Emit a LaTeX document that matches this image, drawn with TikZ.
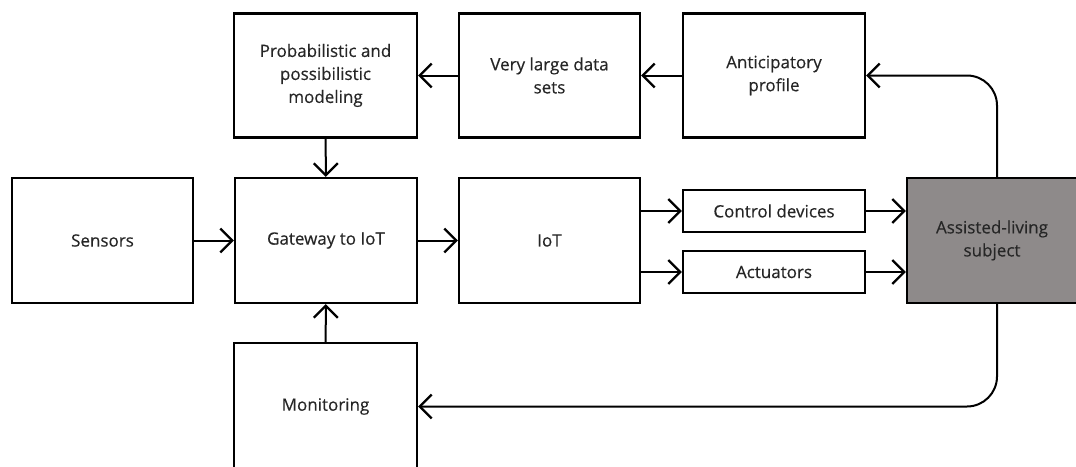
\documentclass[tikz,border=0pt]{standalone}
\usepackage{fontspec}
\setmainfont{Open Sans}
\newfontfamily\medfont{Open Sans}[FakeBold=0.35]
\usetikzlibrary{arrows.meta}
\definecolor{txt}{HTML}{262626}
\definecolor{subj}{HTML}{8E8A8A}
\tikzset{
  blk/.style={draw=black, line width=2.2pt, fill=white, rectangle, align=center,
    text=txt, font=\medfont\fontsize{17}{23}\selectfont, inner sep=0pt},
  arr/.style={line width=2pt, -{Straight Barb[length=12pt,width=24pt,line width=2.3pt]}},
}
\begin{document}
\begin{tikzpicture}[x=1pt,y=-1pt]
\useasboundingbox (0,0) rectangle (1076,466);
\clip (0,0) rectangle (1076,466);
\fill[white] (0,0) rectangle (1076,466);
\node[blk, minimum width=183pt, minimum height=124pt] (prob) at (325.5,75.5) {Probabilistic and\\possibilistic\\modeling};
\node[blk, minimum width=181pt, minimum height=124pt] (data) at (549.5,75.5) {Very large data\\sets};
\node[blk, minimum width=182pt, minimum height=124pt] (antic) at (774,75.5) {Anticipatory\\profile};
\node[blk, minimum width=181pt, minimum height=125pt] (sens) at (102.5,240.5) {Sensors};
\node[blk, minimum width=182pt, minimum height=125pt] (gate) at (326,240.5) {Gateway to IoT};
\node[blk, minimum width=181pt, minimum height=125pt] (iot) at (549.5,240.5) {IoT};
\node[blk, minimum width=182pt, minimum height=42pt] (ctrl) at (774,211) {Control devices};
\node[blk, minimum width=182pt, minimum height=42pt] (act) at (774,272) {Actuators};
\node[blk, fill=subj, minimum width=170pt, minimum height=125pt] (subj) at (992,240.5) {Assisted-living\\subject};
\node[blk, minimum width=183pt, minimum height=127pt] (mon) at (325.5,406.5) {Monitoring};

\draw[arr] (data) -- (prob);
\draw[arr] (antic) -- (data);
\draw[arr] (prob) -- (gate);
\draw[arr] (sens) -- (gate);
\draw[arr] (gate) -- (iot);
\draw[arr] (mon) -- (gate);
\draw[arr] (iot.east |- ctrl) -- (ctrl);
\draw[arr] (iot.east |- act) -- (act);
\draw[arr] (ctrl) -- (subj.west |- ctrl);
\draw[arr] (act) -- (subj.west |- act);
\draw[arr, rounded corners=30pt] ([xshift=5pt]subj.north) |- (antic.east);
\draw[arr, rounded corners=30pt] ([xshift=5pt]subj.south) |- (mon.east);
\end{tikzpicture}
\end{document}
